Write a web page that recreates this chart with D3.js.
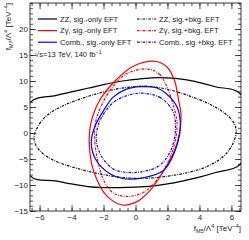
<!DOCTYPE html>
<html>
<head>
<meta charset="utf-8">
<script src="https://cdn.jsdelivr.net/npm/d3@7"></script>
<style>
  body { margin: 0; background: #fff; }
  svg { display: block; font-family: "Liberation Sans", Arial, sans-serif; }
  .axis path { display: none; }
  .axis line { stroke: #222; stroke-width: 0.8; }
  .axis text { fill: #222; font-size: 8px; }
</style>
</head>
<body>
<div id="chart"></div>
<script>
const margin = {top: 3, right: 8, bottom: 29, left: 30};
const width = 249;
const height = 240;
const innerWidth = width - margin.left - margin.right;
const innerHeight = height - margin.top - margin.bottom;

// Axis ranges and tick labels
const xDomain = [-6.6, 6.6];
const yDomain = [-15, 25];
const xTicks = [-6, -4, -2, 0, 2, 4, 6];
const yTicks = [-15, -10, -5, 0, 5, 10, 15, 20];

// Contours, [f_M5, f_M7]
const zzSigOnly = [[-6.6, 5.8], [-5, 7.2], [-4, 7.9], [-3, 8.6], [-2, 9.3], [-1, 9.9], [0, 10.3], [1, 10.6], [2, 10.6], [3, 10.3], [4, 9.7], [5, 8.9], [6.6, 7.4],
  [6.6, -5.8], [5, -7.6], [4, -8.5], [3, -9.2], [2, -9.8], [1, -10.2], [0, -10.4], [-1, -10.5], [-2, -10.5], [-3, -10.3], [-4, -9.8], [-5, -9.2], [-6.6, -8.2]];
const zzSigBkg = [[-6.35, -1.0], [-6.0, 1.8], [-5.4, 3.7], [-4.5, 5.3], [-3.3, 6.7], [-2, 7.9], [-0.7, 8.7], [0.7, 9.0], [2, 8.4], [3.4, 7.1], [4.6, 5.6], [5.5, 4.0], [6.1, 2.2], [6.3, 0.5],
  [6.1, -2.0], [5.5, -4.5], [4.5, -6.4], [3.3, -7.6], [2, -8.3], [0.7, -8.7], [-0.7, -8.6], [-2, -8.0], [-3.3, -7.1], [-4.5, -6.0], [-5.4, -4.8], [-6.1, -3.0]];
const zgSigOnly = [[1.3, 13.75], [2.0, 12.6], [2.44, 10.1], [2.7, 6.3], [2.85, 3.5], [2.75, -0.1], [2.4, -3.7], [1.65, -7.85], [0.9, -11.1], [0.1, -13.2], [-0.9, -13.8],
  [-1.83, -12], [-2.4, -9.1], [-2.75, -5.9], [-2.9, -1.4], [-2.8, 1.8], [-2.25, 6.25], [-1.25, 10.1], [-0.1, 12.9]];
const zgSigBkg = [[0.75, 12.3], [1.5, 11.3], [1.95, 9], [2.35, 5.5], [2.6, 2], [2.45, -2], [2.05, -5.5], [1.33, -9.1], [0.5, -11.4], [-0.5, -12.2], [-1.4, -11.5],
  [-2.0, -9], [-2.35, -5.5], [-2.55, -1.5], [-2.5, 2], [-2.1, 5.5], [-1.4, 9], [-0.5, 11.5]];
const combSigOnly = [[0.3, 8.9], [1.3, 8.7], [1.95, 7.5], [2.6, 5.0], [2.8, 1.1], [2.4, -4], [1.75, -7.2], [0.5, -8.6], [-0.75, -8.8], [-1.6, -7.85], [-2.45, -5.3],
  [-2.77, -2.0], [-2.56, 1.1], [-2.0, 4.3], [-1.4, 6.9], [-0.6, 8.4]];
const combSigBkg = [[0.5, 7.65], [1.5, 6.9], [2.1, 5.3], [2.4, 3.7], [2.5, 0.5], [2.2, -3.4], [1.5, -6.25], [0.3, -7.5], [-0.75, -7.5], [-1.4, -6.9], [-2.1, -4.65],
  [-2.45, -1.4], [-2.3, 1.8], [-1.8, 4.5], [-1.2, 6.3], [-0.3, 7.4]];

const series = [
  {label: "ZZ, sig.-only EFT", data: zzSigOnly, color: "#000", dashed: false},
  {label: "ZZ, sig.+bkg. EFT", data: zzSigBkg, color: "#000", dashed: true},
  {label: "Z\u03b3, sig.-only EFT", data: zgSigOnly, color: "#ff0000", dashed: false},
  {label: "Z\u03b3, sig.+bkg. EFT", data: zgSigBkg, color: "#ff0000", dashed: true},
  {label: "Comb., sig.-only EFT", data: combSigOnly, color: "#0000ff", dashed: false},
  {label: "Comb., sig.+bkg. EFT", data: combSigBkg, color: "#0000ff", dashed: true}
];
const dashPattern = "2.5,1.2,0.8,1.2";

const svg = d3.select("#chart")
  .append("svg")
    .attr("width", width)
    .attr("height", height);

const innerChart = svg
  .append("g")
    .attr("transform", `translate(${margin.left}, ${margin.top})`);

const xScale = d3.scaleLinear().domain(xDomain).range([0, innerWidth]);
const yScale = d3.scaleLinear().domain(yDomain).range([innerHeight, 0]);

// Contours (open ones reach past the frame, so clip)
svg.append("defs").append("clipPath")
    .attr("id", "clip")
  .append("rect")
    .attr("width", innerWidth)
    .attr("height", innerHeight);

const closedLine = d3.line()
  .x(d => xScale(d[0]))
  .y(d => yScale(d[1]))
  .curve(d3.curveCatmullRomClosed.alpha(0.5));

innerChart.append("g")
    .attr("clip-path", "url(#clip)")
  .selectAll("path")
  .data(series)
  .join("path")
    .attr("d", d => closedLine(d.data))
    .attr("fill", "none")
    .attr("stroke", d => d.color)
    .attr("stroke-width", 1.2)
    .attr("stroke-dasharray", d => d.dashed ? dashPattern : null);

// Axes with inward ticks on all sides
const xMinor = d3.range(-6.5, 6.51, 0.5);
const yMinor = d3.range(-15, 25.01, 1);
const fmt = d => d < 0 ? "\u2212" + Math.abs(d) : d;

const addTicks = (axis, transform, labelled) => {
  const g = innerChart.append("g")
      .attr("class", "axis")
      .attr("transform", transform)
      .call(axis);
  if (!labelled) g.selectAll("text").remove();
};

addTicks(d3.axisBottom(xScale).tickValues(xTicks).tickSize(-6).tickPadding(3).tickFormat(fmt), `translate(0, ${innerHeight})`, true);
addTicks(d3.axisBottom(xScale).tickValues(xMinor).tickSize(-3), `translate(0, ${innerHeight})`, false);
addTicks(d3.axisTop(xScale).tickValues(xTicks).tickSize(-6), null, false);
addTicks(d3.axisTop(xScale).tickValues(xMinor).tickSize(-3), null, false);
addTicks(d3.axisLeft(yScale).tickValues(yTicks).tickSize(-6).tickPadding(2).tickFormat(fmt), null, true);
addTicks(d3.axisLeft(yScale).tickValues(yMinor).tickSize(-3), null, false);
addTicks(d3.axisRight(yScale).tickValues(yTicks).tickSize(-6), `translate(${innerWidth}, 0)`, false);
addTicks(d3.axisRight(yScale).tickValues(yMinor).tickSize(-3), `translate(${innerWidth}, 0)`, false);

innerChart.append("rect")
    .attr("width", innerWidth)
    .attr("height", innerHeight)
    .attr("fill", "none")
    .attr("stroke", "#222")
    .attr("stroke-width", 0.9);

// Axis titles
const xTitle = svg.append("text")
    .attr("x", margin.left + innerWidth)
    .attr("y", 231)
    .attr("text-anchor", "end")
    .attr("font-size", 8)
    .attr("fill", "#222");
xTitle.append("tspan").text("f");
xTitle.append("tspan").text("M5").attr("font-size", 5.5).attr("dy", 1.5);
xTitle.append("tspan").text("/\u039b").attr("dy", -1.5);
xTitle.append("tspan").text("4").attr("font-size", 5.5).attr("dy", -3);
xTitle.append("tspan").text(" [TeV").attr("dy", 3);
xTitle.append("tspan").text("\u22124").attr("font-size", 5.5).attr("dy", -3);
xTitle.append("tspan").text("]").attr("dy", 3);

const yTitle = svg.append("text")
    .attr("transform", `translate(11, ${margin.top}) rotate(-90)`)
    .attr("text-anchor", "end")
    .attr("font-size", 8)
    .attr("fill", "#222");
yTitle.append("tspan").text("f");
yTitle.append("tspan").text("M7").attr("font-size", 5.5).attr("dy", 1.5);
yTitle.append("tspan").text("/\u039b").attr("dy", -1.5);
yTitle.append("tspan").text("4").attr("font-size", 5.5).attr("dy", -3);
yTitle.append("tspan").text(" [TeV").attr("dy", 3);
yTitle.append("tspan").text("\u22124").attr("font-size", 5.5).attr("dy", -3);
yTitle.append("tspan").text("]").attr("dy", 3);

// Legend: solid column left, dashed column right
const legendItems = svg.append("g")
  .selectAll("g")
  .data(series)
  .join("g")
    .attr("transform", (d, i) => `translate(${i % 2 === 0 ? 38 : 137}, ${19 + Math.floor(i / 2) * 11.6})`);
legendItems.append("line")
    .attr("x1", 0)
    .attr("x2", 19)
    .attr("stroke", d => d.color)
    .attr("stroke-width", 1.2)
    .attr("stroke-dasharray", d => d.dashed ? dashPattern : null);
legendItems.append("text")
    .attr("x", 22)
    .attr("dy", "0.35em")
    .attr("font-size", 7.6)
    .attr("fill", "#222")
    .text(d => d.label);

const energy = svg.append("text")
    .attr("x", 35)
    .attr("y", 57)
    .attr("font-size", 7.6)
    .attr("fill", "#222");
energy.append("tspan").text("\u221as=13 TeV, 140 fb");
energy.append("tspan").text("\u22121").attr("font-size", 5.3).attr("dy", -3);
</script>
</body>
</html>
